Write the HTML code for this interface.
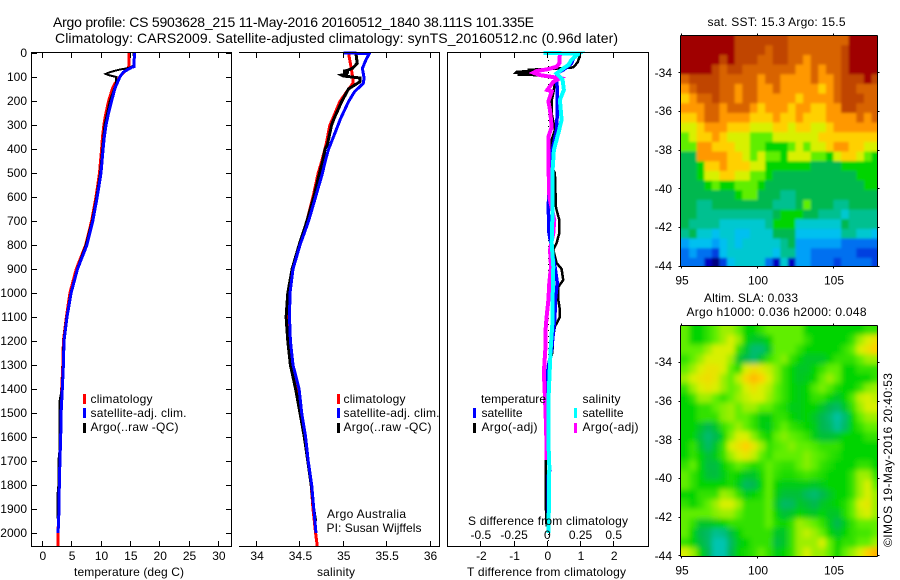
<!DOCTYPE html>
<html lang="en">
<head>
<meta charset="utf-8">
<title>Argo profile chart</title>
<style>
html,body{margin:0;padding:0;background:#fff;}
svg{display:block;}
text{font-family:"Liberation Sans",sans-serif;font-size:12px;fill:#000;}
</style>
</head>
<body>
<svg id="figure" xmlns="http://www.w3.org/2000/svg" width="900" height="580" viewBox="0 0 900 580">
<defs>
<clipPath id="clip-sst"><rect x="681" y="36" width="196" height="231"/></clipPath>
<clipPath id="clip-sla"><rect x="681" y="326" width="196" height="231"/></clipPath>
<filter id="soft-sst" filterUnits="userSpaceOnUse" x="650" y="0" width="260" height="300"><feGaussianBlur stdDeviation="1.3"/></filter>
<filter id="soft-sla" filterUnits="userSpaceOnUse" x="650" y="290" width="260" height="300"><feGaussianBlur stdDeviation="2.6"/></filter>
</defs>

<text x="53" y="27" style="font-size:14px" textLength="481">Argo profile: CS 5903628_215 11-May-2016 20160512_1840 38.111S 101.335E</text>
<text x="55" y="43" style="font-size:14px" textLength="563">Climatology: CARS2009. Satellite-adjusted climatology: synTS_20160512.nc (0.96d later)</text>

<g id="panel-temp"></g>
<g id="panel-sal"></g>
<g id="panel-diff"></g>
<g id="map-sst"></g>
<g id="map-sla"></g>

<text x="74" y="576" textLength="110">temperature (deg C)</text>
<text x="317" y="576" textLength="38">salinity</text>
<text x="467" y="576" textLength="159">T difference from climatology</text>
<text x="468" y="525" textLength="160">S difference from climatology</text>

<g>
<rect x="83" y="394" width="3" height="10" fill="#ff0000"/>
<text x="90.5" y="403" textLength="62">climatology</text>
<rect x="83" y="408" width="3" height="10" fill="#0000ff"/>
<text x="90.5" y="417" textLength="96">satellite-adj. clim.</text>
<rect x="83" y="423" width="3" height="10" fill="#000"/>
<text x="90.5" y="431" textLength="88">Argo(..raw -QC)</text>
</g>
<g>
<rect x="337" y="394" width="3" height="10" fill="#ff0000"/>
<text x="343.5" y="403" textLength="62">climatology</text>
<rect x="337" y="408" width="3" height="10" fill="#0000ff"/>
<text x="343.5" y="417" textLength="96">satellite-adj. clim.</text>
<rect x="337" y="423" width="3" height="10" fill="#000"/>
<text x="343.5" y="431" textLength="88">Argo(..raw -QC)</text>
</g>
<g>
<text x="327" y="518" textLength="79">Argo Australia</text>
<text x="326.5" y="532" textLength="95">PI: Susan Wijffels</text>
</g>
<g>
<text x="481" y="403" textLength="65">temperature</text>
<text x="582.5" y="403" textLength="38">salinity</text>
<rect x="473" y="408" width="3" height="10" fill="#0000ff"/>
<text x="481.5" y="417" textLength="41">satellite</text>
<rect x="473" y="423" width="3" height="10" fill="#000"/>
<text x="481.5" y="431" textLength="56">Argo(-adj)</text>
<rect x="574" y="408" width="3" height="10" fill="#00ffff"/>
<text x="582.5" y="417" textLength="41">satellite</text>
<rect x="574" y="423" width="3" height="10" fill="#ff00ff"/>
<text x="582.5" y="431" textLength="56">Argo(-adj)</text>
</g>

<text x="707.5" y="26" textLength="138">sat. SST: 15.3 Argo: 15.5</text>
<text x="704" y="302" textLength="94">Altim. SLA: 0.033</text>
<text x="686.5" y="316" textLength="180">Argo h1000: 0.036 h2000: 0.048</text>
<text transform="translate(892,547) rotate(-90)" x="0" y="0" textLength="174">©IMOS 19-May-2016 20:40:53</text>
</svg>

<script>
// ---------- tick labels ----------
const depthTicks = [0,100,200,300,400,500,600,700,800,900,1000,1100,1200,1300,1400,1500,1600,1700,1800,1900,2000];
const tempTicks = [0,5,10,15,20,25,30];
const salTicks = [34,34.5,35,35.5,36];
const dTTicks = [-2,-1,0,1,2];
const dSTicks = [-0.5,-0.25,0,0.25,0.5];
const dSTickLabels = ['-0.5','-0.25','0','0.25','0.5'];
const lonTicks = [95,100,105];
const latTicks = [-34,-36,-38,-40,-42,-44];

// ---------- temperature profiles ----------
const tempClimDepth = [0,55,70,90,130,145,200,255,300,350,400,500,600,700,800,900,1000,1100,1200,1300,1400,1500,1600,1700,1800,1900,2000,2056];
const tempClimValue = [14.8,14.8,14.3,13.5,12.3,12.0,11.3,10.8,10.5,10.25,10.1,9.75,9.15,8.4,7.4,5.8,4.7,4.1,3.6,3.5,3.3,3.2,3.1,3.0,2.9,2.8,2.7,2.7];
const tempSatDepth = [0,57,60,80,100,130,145,200,255,300,350,400,500,600,700,800,900,1000,1100,1200,1300,1400,1500,1600,1700,1800,1900,2000];
const tempSatValue = [15.7,15.6,15.2,13.8,13.2,12.7,12.4,11.8,11.25,10.85,10.57,10.35,10.0,9.35,8.6,7.6,6.0,4.9,4.2,3.7,3.6,3.4,3.2,3.13,3.0,2.9,2.85,2.7];
const tempArgoDepth = [0,30,50,62,70,80,87,92,100,130,200,300,400,500,600,700,800,900,1000,1100,1200,1300,1400,1450,1650,1700,1800,1850,1940];
const tempArgoValue = [15.5,15.7,15.7,14.8,13.0,11.5,10.8,11.3,12.6,12.5,11.5,10.6,10.2,9.85,9.2,8.45,7.4,5.9,4.8,4.1,3.6,3.5,3.3,2.95,2.95,2.75,2.75,2.55,2.55];

// ---------- salinity profiles ----------
const salClimDepth = [0,60,105,127,161,203,272,300,383,453,500,600,700,800,900,1000,1100,1200,1300,1400,1500,1600,1700,1800,1900,2000,2056];
const salClimValue = [35.06,35.09,35.11,35.11,35.04,34.96,34.88,34.845,34.8,34.75,34.71,34.65,34.58,34.49,34.41,34.37,34.35,34.37,34.4,34.47,34.51,34.56,34.59,34.63,34.65,34.68,34.7];
const salSatDepth = [0,2,30,64,105,127,161,203,272,300,383,400,453,500,600,700,800,900,1000,1100,1200,1300,1400,1500,1600,1700,1800,1900,2000];
const salSatValue = [35.0,35.3,35.26,35.22,35.24,35.23,35.13,35.06,34.97,34.94,34.85,34.83,34.79,34.76,34.68,34.6,34.5,34.42,34.385,34.38,34.39,34.42,34.49,34.52,34.565,34.595,34.635,34.66,34.685];
const salArgoDepth = [0,43,63,72,76,80,84,88,92,96,100,104,120,150,203,272,300,383,400,453,500,600,700,800,900,1000,1100,1200,1300,1400,1500,1600,1700,1800,1900,1950];
const salArgoValue = [35.145,35.16,35.11,35.05,35.0,35.06,35.0,35.05,34.98,35.0,35.1,35.19,35.19,35.06,34.98,34.895,34.865,34.815,34.79,34.76,34.725,34.66,34.58,34.49,34.41,34.36,34.34,34.36,34.39,34.45,34.5,34.55,34.59,34.63,34.66,34.68];

// ---------- difference profiles ----------
const dTSatDepth = [0,25,43,60,71,85,112,154,237,321,404,487,571,640,750,890,958,1029,1100,1167,1237,1308,1362,1640,1737,1760,2000];
const dTSatValue = [0.88,0.78,0.73,0.58,0.48,0.28,0.28,0.30,0.30,0.28,0.15,0.08,0.05,0.03,0.05,0.23,0.30,0.24,0.23,0.18,0.13,0.03,-0.02,0,0.08,0.03,0.03];
const dTArgoDepth = [0,20,40,60,66,70,74,78,82,86,90,92,105,125,167,200,250,321,362,460,500,640,654,696,750,792,820,875,900,946,975,1029,1070,1100,1140,1180,1250,1308,1640,1780,1860,1973];
const dTArgoValue = [0.93,0.96,0.91,0.78,0.18,-0.6,-0.2,-0.92,-0.95,-0.5,-0.9,-0.32,0.33,0.23,0.18,0.13,0.13,0.23,0.13,0.08,0.23,0.26,0.28,0.36,0.36,0.28,0.18,0.28,0.43,0.48,0.33,0.33,0.38,0.38,0.23,0.18,0.15,0.03,-0.04,-0.05,-0.05,-0.02];
const dSSatDepth = [0,2,10,30,50,60,85,112,154,196,279,335,404,487,640,696,792,890,1029,1112,1167,1237,1362,1432,1640,1722,1973,2000];
const dSSatValue = [-0.03,0.24,0.22,0.18,0.16,0.13,0.07,0.115,0.125,0.095,0.108,0.083,0.05,0.04,0.038,0.038,0.033,0.045,0.04,0.04,0.033,0.025,0.015,0.01,0.01,0.015,0.01,0.008];
const dSArgoDepth = [4,43,57,68,75,82,92,105,120,154,160,202,237,307,348,460,600,696,750,820,890,958,1029,1100,1167,1237,1308,1362,1501,1640,1695];
const dSArgoValue = [0.095,0.09,0.07,0,-0.08,-0.105,-0.055,0.095,0.045,0,0.033,0.008,0.02,0.033,0.01,0.008,0.015,0.053,0.045,0.02,0.028,0.015,0.008,-0.005,-0.015,-0.015,-0.023,-0.023,-0.013,-0.005,-0.005];

// ---------- map grids (colour level, 0.5 degree cells, north to south) ----------
const sstLevels = [
[16,16,16,16,16,16,16,15,15,15,15,15,15,15,14,14,14,14,14,14,14,14,16,16,16,16],
[16,16,16,16,16,16,16,15,15,15,15,14,15,15,14,14,14,14,14,14,14,15,16,16,16,16],
[16,16,16,16,16,15,16,15,15,15,14,14,15,15,14,14,13,14,14,14,14,15,16,16,16,16],
[16,16,16,16,15,14,15,15,14,14,14,14,14,14,14,13,13,14,13,14,14,15,16,16,16,16],
[14,15,15,15,15,14,14,14,14,14,13,14,14,13,13,13,13,14,13,13,14,15,15,15,16,15],
[13,14,15,15,15,14,14,13,14,14,13,13,14,13,13,13,13,13,12,13,14,15,15,14,14,14],
[12,13,14,14,15,14,14,13,14,14,13,13,13,13,13,12,13,13,13,13,14,15,15,15,14,14],
[13,13,13,14,14,13,14,14,14,13,12,13,13,13,12,13,13,12,12,13,13,15,15,14,14,14],
[12,12,13,14,14,13,13,13,13,12,12,12,13,12,12,13,12,12,12,13,13,13,13,14,13,14],
[11,11,12,13,13,13,12,12,12,11,11,11,12,12,11,12,12,11,11,12,13,13,13,13,13,13],
[10,11,12,12,13,12,11,11,11,10,10,10,11,11,11,11,11,11,12,12,12,12,12,12,12,12],
[10,10,13,13,12,12,12,11,11,10,10,9,9,9,10,11,10,11,11,12,13,13,12,12,11,11],
[8,8,13,13,13,13,12,12,11,10,11,10,10,9,11,11,11,10,10,9,11,12,12,11,10,9],
[8,8,9,12,12,13,12,12,12,11,11,9,9,9,9,9,9,8,8,8,8,9,9,9,9,9],
[8,8,9,11,11,12,12,11,11,10,10,9,8,8,8,8,8,8,8,8,8,8,8,9,9,9],
[8,8,8,9,10,9,9,10,10,10,9,8,8,8,8,8,8,8,8,8,8,8,8,8,9,9],
[8,8,8,8,8,8,8,9,10,10,8,8,8,7,7,8,8,8,8,8,8,8,8,8,8,8],
[8,8,7,7,8,8,8,8,8,8,8,8,7,7,7,8,10,8,8,8,7,7,8,8,8,8],
[8,8,7,7,7,7,7,7,7,7,7,7,8,9,9,9,8,8,7,7,7,6,7,7,7,7],
[8,7,7,7,7,6,6,6,6,6,6,7,9,9,9,6,6,6,6,6,6,8,7,7,7,7],
[7,8,6,6,5,6,6,5,5,6,6,6,8,8,8,5,5,5,5,5,5,7,7,6,6,5],
[4,5,5,5,4,5,6,5,6,6,6,6,6,7,8,4,4,4,4,4,4,3,3,3,3,3],
[3,4,3,3,2,5,6,6,6,6,6,6,5,7,7,4,4,3,3,3,3,3,3,2,2,2],
[3,3,3,1,0,2,5,6,6,6,6,3,1,6,1,4,4,3,3,3,2,3,3,3,3,2]
];
const slaLevels = [
[10,9,9,9.5,10,10.5,10.5,10,9,9,9.5,10,10,10,10,10,9,9,9,9,9,9,9,9,9.5,9.5],
[10,9,9,9.5,10,10.5,11,10.5,9,8.5,8.5,9,10,10,10,10,9.5,9,9,9,9,9,9.5,10.5,11,11.5],
[10,10,10,10.5,11,11,11,9.5,8.5,7.5,7.5,8.5,10,10,10,9.5,9,9,9,9,9,9.5,10,11,11.5,12],
[9.5,10,10.5,11,11,11,10.5,8.5,8,7.5,8.5,9.5,10,10.3,9.5,9,8.5,8.5,8.5,9,9.5,9.5,9.5,10,10.5,10.5],
[10,10.5,11,11.4,11.4,11,10,9.3,11,11.6,11.2,10.8,10.3,9.5,9,8.5,8.5,9,9.5,10,10,9,9,9.5,9.5,9.5],
[10.5,11,11.4,11.6,11.3,10.5,10,10.8,11.8,12.4,12,11,10.3,9.5,9,8.5,8.7,9,10,10.5,10,9,9,9,9,9.5],
[9.5,10.5,11,11.3,11,10.5,10,10.3,11,11.5,11,10.7,10,9.5,9,8.7,9,9.8,10.2,9.8,9.2,9,9,9.5,10.3,10.5],
[9,9.5,10.5,10.5,10,9.5,10,10.5,10.8,11,11,10.5,10,9.5,9,8.7,9,9.5,9.5,9,8.5,9,9.8,10.8,11,10.8],
[9,9,9.5,9.5,10,10.3,10.5,10,10.5,10.5,10,10,9.5,9.3,8.7,8.7,9,9,8.5,8,7.7,8.5,9.5,10.5,11,11],
[9,9,9.5,9.5,9.5,10.3,10.5,10,10,9.5,8.8,8.8,9.5,9.5,9,8.7,9,8.5,8,7.5,6.7,7.5,9,10,10.5,10.5],
[9,9,8.5,8,8.5,9.5,10,10.5,10,9.5,8.8,8.7,9.5,10,9.5,9.3,9,8.7,8,7.7,6.9,7.7,9,9.5,10,10],
[9,9,8.2,7.5,8,9,10.3,11,11,10.3,9.5,9,10,10.3,10,9.8,9.5,8.7,8.3,8.3,8.5,9,9,9,9.5,9.5],
[9,9.5,8.5,7.7,8.5,9.5,11,11.5,12,11.3,10.5,9.5,9.8,10,10.3,10,10,9.8,9.5,9.5,9.5,9,9,9,9,9],
[9,9.5,9,8.3,8.7,9.5,10.5,11,11.3,10.8,10,9.5,10,10,10,10,10.3,10,9.8,9.5,9.3,9,9,9,9,9],
[9.5,10,9,8.2,8.2,9,9.5,10,9.7,9.3,9.5,10,9.7,9.5,9.5,10,10.3,10,9.5,9.3,9,9,9,9.5,9.5,9],
[10,9.5,9,8.3,8.2,8.7,9.3,9,8.5,8.5,9.2,10,9.5,9.3,9.3,9.5,9.7,9.5,9.3,9,9,9,9.5,10.5,10.5,9.5],
[10,9.5,9,9,9,9,9.3,8.7,7.8,8,9,10,9,8.7,8.7,8.7,8.7,8.5,8.7,9,9,9,9.5,10.5,11,10],
[9,9,9.5,9.5,9.5,10.5,10.3,9.5,8.7,9,9.3,10,8.8,8.3,8.3,8.3,7.8,7.5,8,8.5,9,9,9.5,10.5,11,10.5],
[9.5,9,9.5,10,10.5,11,11,10.5,9.5,9.5,9.5,10,8.5,7.7,7.8,8.5,8.3,8,8.5,8.7,9,9.3,10,11,11.3,10.5],
[10,10,10,10,10.3,10.5,10.5,10,9.5,9.5,9.5,10,9,8.3,8.5,9,8.7,8.5,9,8.5,8.5,9.3,10,10.8,11,10.5],
[10,9.5,8.5,8.5,8.7,9,9.5,9.5,9.5,9.5,9.5,10,9.3,9,9.5,10.5,10.3,10,9.5,8.7,8,8.7,9.5,10,10,10],
[10,9,8,7.7,7,7.2,8.2,9,9.5,9.5,9.5,9.5,8.5,8.5,9.5,10.5,10.8,10.5,10,9,8.5,9,9.5,9.7,9.7,10],
[9.5,9,8.2,7.7,6.5,6.5,7.8,8.7,9,9.5,9.5,9.5,8.2,8.5,9.5,10.5,10.5,10.5,11,10,9,9.5,9.5,10,10,10.5],
[11,10.5,9,8,6.5,6.5,8,9,9.2,9.5,10,9.5,8.7,9,9.5,10.5,11,10.5,10.5,10,9,10,10.5,11,12,12.5]
];
const colourRamp = ['#000080','#0000c0','#0040e0','#0070f0','#00a0f8','#00c0f0','#00c8d0','#00c090','#00b850','#00d400','#60ee00','#d8f000','#ffd000','#ff9800','#d86400','#c04400','#a00000'];

// ---------- axis functions ----------
const NS = 'http://www.w3.org/2000/svg';
const yDepth = d => 53 + 0.24 * d;
const xTemp = t => 42.3 + 5.87 * t;
const xSal = s => 256.6 + 86.7 * (s - 34);
const xDT = t => 547.3 + 33.2 * t;
const xDS = s => 547.3 + 132.8 * s;
const xLon = lon => 681.5 + 15.2 * (lon - 95);
const ySstLat = lat => 72.7 + 19.33 * (-34 - lat);
const ySlaLat = lat => 362.4 + 19.33 * (-34 - lat);

function make(tag, attrs, parent) {
  const el = document.createElementNS(NS, tag);
  for (const k in attrs) el.setAttribute(k, attrs[k]);
  parent.appendChild(el);
  return el;
}
function rule(parent, x1, y1, x2, y2, name) {
  const el = make('line', {x1, y1, x2, y2, stroke:'#000', 'stroke-width':1, 'shape-rendering':'crispEdges'}, parent);
  
  
}
function label(parent, x, y, str, anchor, name) {
  const el = make('text', {x, y, 'text-anchor':anchor}, parent);
  el.textContent = str;
  
  
}
function series(parent, depths, values, xFn, colour, width, name) {
  const pts = depths.map((d, i) => xFn(values[i]).toFixed(1) + ',' + yDepth(d).toFixed(1)).join(' ');
  const el = make('polyline', {points:pts, fill:'none', stroke:colour, 'stroke-width':width, 'stroke-linejoin':'miter', 'shape-rendering':'crispEdges'}, parent);
  
  
}
function colourFor(v) {
  const c = Math.max(0, Math.min(colourRamp.length - 1, v));
  const a = Math.floor(c), b = Math.min(colourRamp.length - 1, a + 1), f = c - a;
  const rgb = s => [1,3,5].map(i => parseInt(s.substr(i,2),16));
  const A = rgb(colourRamp[a]), B = rgb(colourRamp[b]);
  return 'rgb(' + A.map((n,i) => Math.round(n + (B[i]-n)*f)).join(',') + ')';
}

// ---------- profile panels ----------
const panelTemp = document.getElementById('panel-temp');
const panelSal = document.getElementById('panel-sal');
const panelDiff = document.getElementById('panel-diff');

series(panelTemp, tempClimDepth, tempClimValue, xTemp, '#ff0000', 3, 'temperature-climatology-line');
series(panelTemp, tempArgoDepth, tempArgoValue, xTemp, '#000000', 2, 'temperature-argo-line');
series(panelTemp, tempSatDepth, tempSatValue, xTemp, '#0000ff', 3, 'temperature-satellite-line');

series(panelSal, salClimDepth, salClimValue, xSal, '#ff0000', 3, 'salinity-climatology-line');
series(panelSal, salArgoDepth, salArgoValue, xSal, '#000000', 3, 'salinity-argo-line');
series(panelSal, salSatDepth, salSatValue, xSal, '#0000ff', 3, 'salinity-satellite-line');

const zeroLine = make('line', {x1:548.5, y1:60, x2:548.5, y2:546, stroke:'#000', 'stroke-width':1, 'stroke-dasharray':'1 5', 'shape-rendering':'crispEdges'}, panelDiff);


series(panelDiff, dTArgoDepth, dTArgoValue, xDT, '#000000', 2.5, 'difference-t-argo-line');
series(panelDiff, dTSatDepth, dTSatValue, xDT, '#0000ff', 3.5, 'difference-t-satellite-line');
series(panelDiff, dSArgoDepth, dSArgoValue, xDS, '#ff00ff', 4, 'difference-s-argo-line');
series(panelDiff, dSSatDepth, dSSatValue, xDS, '#00ffff', 4, 'difference-s-satellite-line');

// frames
rule(panelTemp, 31.5, 52.5, 231.5, 52.5, 'temperature-top-spine');
rule(panelTemp, 31.5, 546.5, 231.5, 546.5, 'temperature-bottom-spine');
rule(panelTemp, 31.5, 52, 31.5, 547, 'temperature-left-spine');
rule(panelTemp, 231.5, 52, 231.5, 547, 'temperature-right-spine');
rule(panelSal, 239, 52.5, 440, 52.5, 'salinity-top-spine');
rule(panelSal, 239, 546.5, 440, 546.5, 'salinity-bottom-spine');
rule(panelSal, 439.5, 52, 439.5, 547, 'salinity-right-spine');
rule(panelDiff, 447.5, 52.5, 648.5, 52.5, 'difference-top-spine');
rule(panelDiff, 447.5, 546.5, 648.5, 546.5, 'difference-bottom-spine');
rule(panelDiff, 447.5, 52, 447.5, 547, 'difference-left-spine');
rule(panelDiff, 648.5, 52, 648.5, 547, 'difference-right-spine');

// ticks and tick labels
depthTicks.forEach(d => {
  const y = Math.round(yDepth(d) - 0.5) + 0.5;
  rule(panelTemp, 32, y, 37, y, 'depth-tick-left');
  rule(panelTemp, 226, y, 231, y, 'depth-tick-right');
  label(panelTemp, 27, Math.round(yDepth(d)) + 4, String(d), 'end', 'depth-tick-label');
});
function xTicks(parent, ticks, xFn, texts, prefix) {
  ticks.forEach((t, i) => {
    const x = Math.round(xFn(t) - 0.5) + 0.5;
    rule(parent, x, 53, x, 58, prefix + '-tick-top');
    rule(parent, x, 541, x, 546, prefix + '-tick-bottom');
    label(parent, xFn(t) + 0.5, 560, texts[i], 'middle', prefix + '-tick-label');
  });
}
xTicks(panelTemp, tempTicks, xTemp, tempTicks.map(String), 'temperature');
xTicks(panelSal, salTicks, xSal, salTicks.map(String), 'salinity');
xTicks(panelDiff, dTTicks, xDT, dTTicks.map(String), 't-difference');
dSTicks.forEach((s, i) => {
  label(panelDiff, xDS(s), 539, dSTickLabels[i], 'middle', 's-difference-tick-label');
});

// ---------- maps ----------
function drawMap(groupId, grid, yLat, topLat, filterId, clipId, left, right, top, bottom, prefix) {
  const g = document.getElementById(groupId);
  const clipped = make('g', {'clip-path':'url(#' + clipId + ')'}, g);
  
  
  const inner = make('g', {filter:'url(#' + filterId + ')'}, clipped);
  grid.forEach((row, j) => {
    row.forEach((v, i) => {
      let x0 = xLon(95 + i * 0.5), x1 = xLon(95 + (i + 1) * 0.5);
      let y0 = yLat(topLat - j * 0.5), y1 = yLat(topLat - (j + 1) * 0.5);
      if (i === 0) x0 -= 14;
      if (i === row.length - 1) x1 += 14;
      if (j === 0) y0 -= 14;
      if (j === grid.length - 1) y1 += 14;
      const cell = make('rect', {x:x0.toFixed(2), y:y0.toFixed(2), width:(x1-x0+0.4).toFixed(2), height:(y1-y0+0.4).toFixed(2), fill:colourFor(v)}, inner);
      
      
    });
  });
  rule(g, left, top, right, top, prefix + '-frame-top');
  rule(g, left, bottom, right, bottom, prefix + '-frame-bottom');
  rule(g, left, top, left, bottom, prefix + '-frame-left');
  rule(g, right, top, right, bottom, prefix + '-frame-right');
  lonTicks.forEach(lon => {
    const x = Math.round(xLon(lon) - 0.5) + 0.5;
    rule(g, x, top - 2, x, top, prefix + '-lon-tick-top');
    rule(g, x, bottom, x, bottom + 2, prefix + '-lon-tick-bottom');
    label(g, xLon(lon) + 0.5, bottom + 18, String(lon), 'middle', prefix + '-lon-tick-label');
  });
  latTicks.forEach(lat => {
    const y = Math.round(yLat(lat) - 0.5) + 0.5;
    rule(g, left - 2, y, left, y, prefix + '-lat-tick-left');
    rule(g, right, y, right + 2, y, prefix + '-lat-tick-right');
    label(g, 672, Math.round(yLat(lat)) + 4, '-' + Math.abs(lat), 'end', prefix + '-lat-tick-label');
  });
}
drawMap('map-sst', sstLevels, ySstLat, -32.08, 'soft-sst', 'clip-sst', 680.5, 877.5, 35.5, 266.5, 'sst-map');
drawMap('map-sla', slaLevels, ySlaLat, -32.08, 'soft-sla', 'clip-sla', 680.5, 877.5, 325.5, 556.5, 'sla-map');
</script>
</body>
</html>
